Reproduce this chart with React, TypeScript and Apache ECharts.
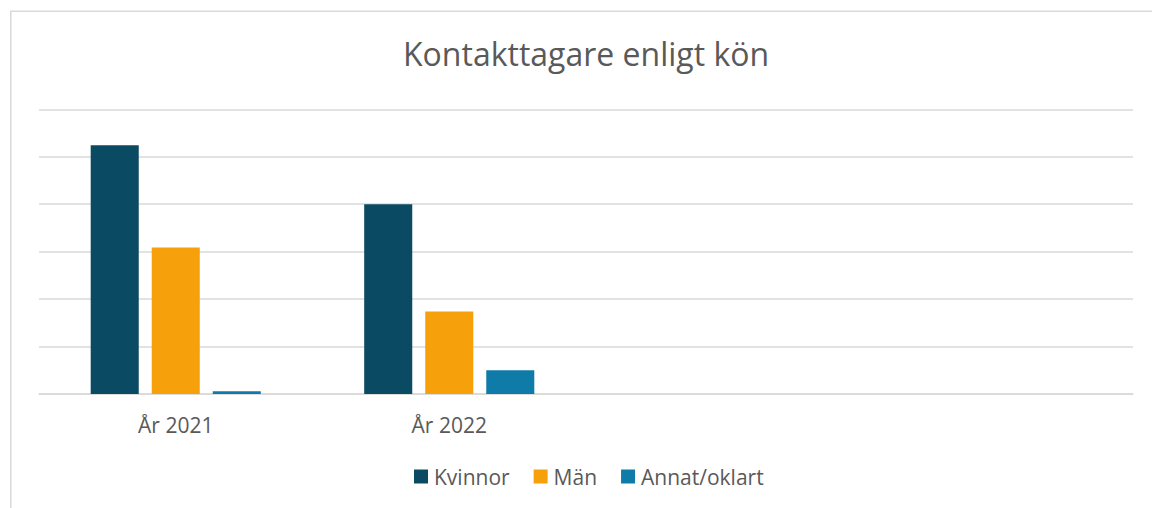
import React, { useEffect, useRef } from "react";
import * as echarts from "echarts";

const categories = ["År 2021", "År 2022", "", ""];
const kvinnor = [5.24, 4.0, null, null];
const man = [3.09, 1.74, null, null];
const annat = [0.06, 0.5, null, null];
const seriesNames = ["Kvinnor", "Män", "Annat/oklart"];
const colors = ["#0B4A63", "#F6A10C", "#0F7BA9"];

export default function App() {
  const ref = useRef<HTMLDivElement>(null);
  useEffect(() => {
    const chart = echarts.init(ref.current!, null, { renderer: "svg" });
    const font = "'Open Sans', 'Noto Sans', sans-serif";
    const dataSets = [kvinnor, man, annat];
    chart.setOption({
      animation: false,
      backgroundColor: "#ffffff",
      title: {
        text: "Kontakttagare enligt kön",
        left: 398,
        top: 32,
        textStyle: { fontFamily: font, fontSize: 32, fontWeight: "normal", color: "#595959" },
      },
      legend: {
        bottom: 16,
        left: 409,
        itemWidth: 14,
        itemHeight: 14,
        itemGap: 24,
        icon: "rect",
        textStyle: { fontFamily: font, fontSize: 21, color: "#595959", padding: [0, 0, 0, 1] },
        data: seriesNames,
      },
      graphic: [
        {
          type: "rect",
          shape: { x: 10.75, y: 11.25, width: 2000, height: 1000 },
          style: { fill: "none", stroke: "#d9d9d9", lineWidth: 1.5 },
          silent: true,
        },
      ],
      grid: { left: 39, right: 19, top: 109.3, bottom: 114, containLabel: false },
      xAxis: {
        type: "category",
        data: categories,
        axisLine: { show: true, lineStyle: { color: "#d9d9d9", width: 1.5 } },
        axisTick: { show: false },
        axisLabel: { fontFamily: font, fontSize: 21, color: "#595959", margin: 20 },
      },
      yAxis: {
        type: "value",
        min: 0,
        max: 6,
        interval: 1,
        axisLabel: { show: false },
        axisLine: { show: false },
        axisTick: { show: false },
        splitLine: { lineStyle: { color: "#d9d9d9", width: 1.5 } },
      },
      series: seriesNames.map((name, i) => ({
        name,
        type: "bar",
        data: dataSets[i],
        itemStyle: { color: colors[i] },
        barCategoryGap: "37.8%",
        barGap: "27%",
      })),
    });
    return () => chart.dispose();
  }, []);
  return (
    <div
      ref={ref}
      style={{ position: "fixed", left: 0, top: 0, width: 1152, height: 508 }}
    />
  );
}
